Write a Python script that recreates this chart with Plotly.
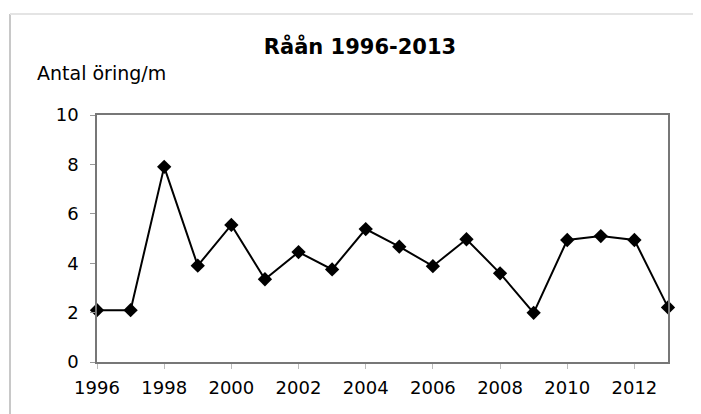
import plotly.graph_objects as go

years = list(range(1996, 2014))
values = [2.1, 2.1, 7.9, 3.9, 5.55, 3.35, 4.45, 3.75, 5.38, 4.67, 3.88, 4.97, 3.59, 1.99, 4.94, 5.1, 4.94, 2.21]
xtick_vals = list(range(1996, 2014, 2))
ytick_vals = [0, 2, 4, 6, 8, 10]
title_text = "Råån 1996-2013"
ylabel = "Antal öring/m"

# page body has an 8px margin, so work in figure pixels = reference pixels - 8
OFF = 8
W, H = 701 - OFF, 414 - OFF
L, R, T, B = 97 - OFF, 668 - OFF, 115 - OFF, 362 - OFF
pw, ph = R - L, B - T

def px(x):
    return (x - OFF - L) / pw

def py(y):
    return (B - (y - OFF)) / ph

FONT = "DejaVu Sans, Liberation Sans, Arial, sans-serif"

fig = go.Figure()
fig.add_trace(go.Scatter(
    x=years, y=values, mode="lines+markers",
    line=dict(color="black", width=2),
    marker=dict(symbol="diamond", size=11, color="black"),
    cliponaxis=False, showlegend=False,
))

fig.update_layout(
    width=W, height=H,
    margin=dict(l=L, r=W - R, t=T, b=H - B),
    paper_bgcolor="white", plot_bgcolor="white",
    font=dict(family=FONT, size=18, color="black"),
    title=dict(text="<b>" + title_text + "</b>", x=(360 - OFF) / W, xref="container",
               y=1 - (47 - OFF) / H, yref="container", xanchor="center", yanchor="middle",
               font=dict(size=21, color="black", family=FONT)),
    xaxis=dict(range=[1996, 2013], tickmode="array", tickvals=xtick_vals,
               ticks="outside", ticklen=5, tickcolor="#bbbbbb", showgrid=False, zeroline=False,
               showline=True, linecolor="#777777", linewidth=1.5, mirror=True,
               ticklabelstandoff=4, tickfont=dict(size=18)),
    yaxis=dict(range=[0, 10], tickmode="array", tickvals=ytick_vals, ticks="outside", ticklen=5,
               tickcolor="#999999", showgrid=False, zeroline=False,
               showline=True, linecolor="#777777", linewidth=1.5, mirror=True,
               ticklabelstandoff=8, tickfont=dict(size=18)),
    annotations=[dict(text=ylabel, xref="paper", yref="paper", x=px(35), y=py(73),
                      xanchor="left", yanchor="middle", showarrow=False,
                      font=dict(size=19, color="black", family=FONT))],
    shapes=[
        dict(type="line", xref="paper", yref="paper", x0=px(10), x1=px(10), y0=py(14), y1=py(420),
             line=dict(color="#c8c8c8", width=2)),
        dict(type="line", xref="paper", yref="paper", x0=px(10), x1=px(705), y0=py(14), y1=py(14),
             line=dict(color="#e4e4e4", width=2)),
    ],
)

fig.write_html("out.html")
